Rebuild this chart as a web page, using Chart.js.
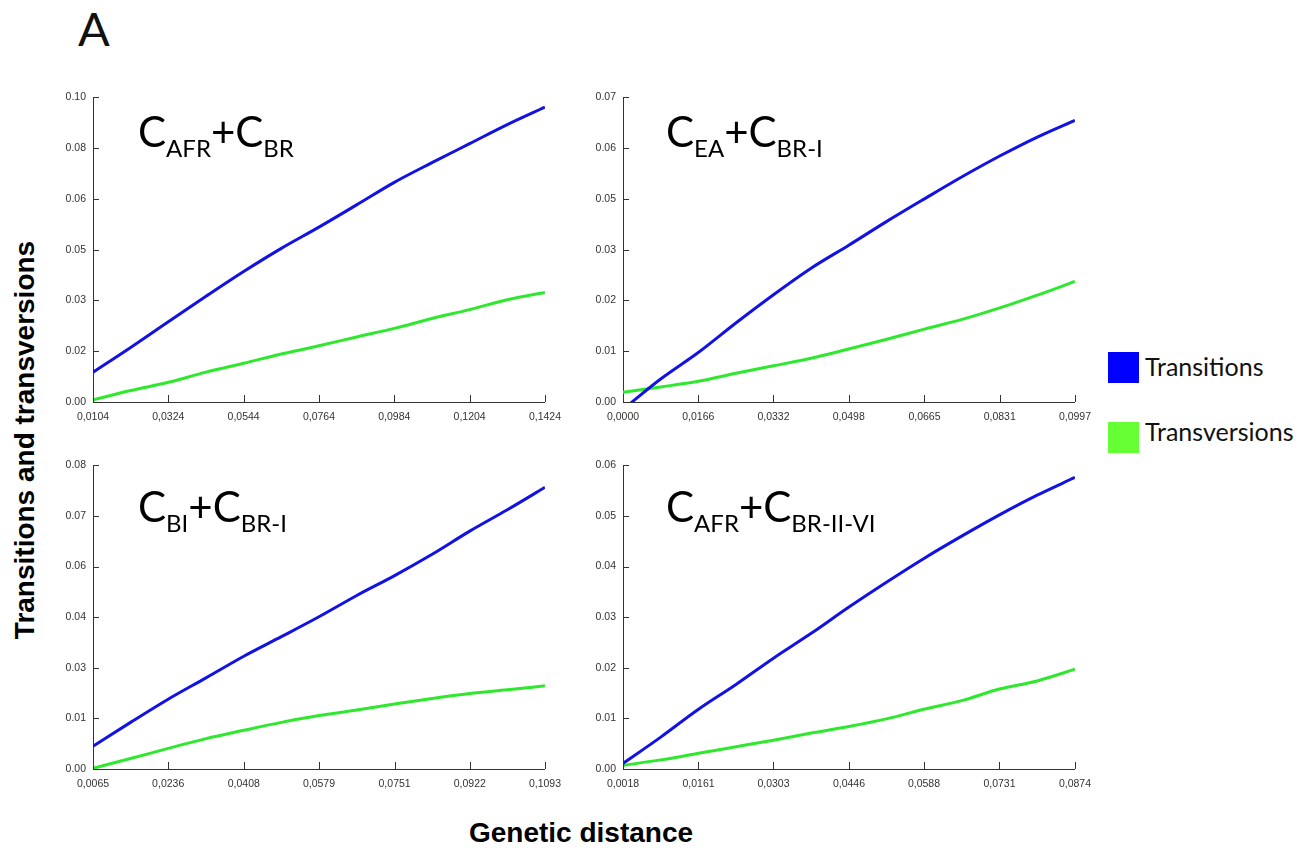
<!DOCTYPE html>
<html>
<head>
<meta charset="utf-8">
<script src="https://cdn.jsdelivr.net/npm/chart.js@4.4.1/dist/chart.umd.min.js"></script>
<style>
  body { margin: 0; background: #fff; }
  #page { position: relative; width: 1304px; height: 848px; overflow: hidden; background: #fff; }
  .panel { position: absolute; }
  .ttl { position: absolute; font-family: Lato, sans-serif; font-size: 42px; line-height: 1; color: #000; white-space: nowrap; }
  .ttl span { font-size: 24px; vertical-align: -10px; }
  .lbl { position: absolute; font-family: Lato, sans-serif; font-size: 25px; line-height: 1; color: #111; white-space: nowrap; }
  .sw { position: absolute; width: 31px; height: 31px; }
  .axt { position: absolute; font-family: "Liberation Sans", Arial, sans-serif; font-weight: bold; font-size: 28px; line-height: 1; color: #000; white-space: nowrap; }
</style>
</head>
<body>
<div id="page">
  <div class="lbl" style="left:78px; top:5px; font-size:47px;">A</div>

  <canvas id="c1" class="panel" width="530" height="345" style="left:40px; top:84px;"></canvas>
  <canvas id="c2" class="panel" width="530" height="345" style="left:570px; top:84px;"></canvas>
  <canvas id="c3" class="panel" width="530" height="344" style="left:40px; top:452px;"></canvas>
  <canvas id="c4" class="panel" width="530" height="344" style="left:570px; top:452px;"></canvas>

  <div class="ttl" style="left:138px; top:110px;">C<span>AFR</span>+C<span>BR</span></div>
  <div class="ttl" style="left:666px; top:110px;">C<span>EA</span>+C<span>BR-I</span></div>
  <div class="ttl" style="left:138px; top:485px;">C<span>BI</span>+C<span>BR-I</span></div>
  <div class="ttl" style="left:666px; top:485px;">C<span>AFR</span>+C<span>BR-II-VI</span></div>

  <div class="sw" style="left:1108px; top:352px; background:#0000ff;"></div>
  <div class="lbl" style="left:1145px; top:354px;">Transitions</div>
  <div class="sw" style="left:1108px; top:422px; background:#66ff33;"></div>
  <div class="lbl" style="left:1145px; top:419px;">Transversions</div>

  <div class="axt" style="left:25px; top:440px; transform: translate(-50%, -50%) rotate(-90deg);">Transitions and transversions</div>
  <div class="axt" style="left:431px; top:819px; width:300px; text-align:center;">Genetic distance</div>
</div>

<script>
// panel 1: CAFR + CBR
const x1 = [0.0104, 0.0214, 0.0324, 0.0434, 0.0544, 0.0654, 0.0764, 0.0874, 0.0984, 0.1094, 0.1204, 0.1314, 0.1424];
const ts1 = [0.0094, 0.0172, 0.0253, 0.0333, 0.0411, 0.0484, 0.0551, 0.0621, 0.0692, 0.0754, 0.0814, 0.0874, 0.0929];
const tv1 = [0.0007, 0.0036, 0.0062, 0.0094, 0.0122, 0.0151, 0.0177, 0.0205, 0.0232, 0.0263, 0.0291, 0.0322, 0.0345];
const xt1 = [0.0104, 0.0324, 0.0544, 0.0764, 0.0984, 0.1204, 0.1424];
const yt1 = [0, 0.016, 0.032, 0.048, 0.064, 0.08, 0.096];

// panel 2: CEA + CBR-I
const x2 = [0.0000, 0.0083, 0.0166, 0.0249, 0.0332, 0.0415, 0.0498, 0.0582, 0.0665, 0.0748, 0.0831, 0.0914, 0.0997];
const ts2 = [-0.0017, 0.0052, 0.0112, 0.0179, 0.0243, 0.0303, 0.0355, 0.0409, 0.0460, 0.0510, 0.0557, 0.0600, 0.0638];
const tv2 = [0.0022, 0.0034, 0.0047, 0.0065, 0.0082, 0.0099, 0.0120, 0.0142, 0.0165, 0.0187, 0.0213, 0.0242, 0.0273];
const xt2 = [0.0000, 0.0166, 0.0332, 0.0498, 0.0665, 0.0831, 0.0997];
const yt2 = [0, 0.0115, 0.023, 0.0345, 0.046, 0.0575, 0.069];

// panel 3: CBI + CBR-I
const x3 = [0.0065, 0.01505, 0.0236, 0.0322, 0.0408, 0.04935, 0.0579, 0.0665, 0.0751, 0.08365, 0.0922, 0.10075, 0.1093];
const ts3 = [0.0063, 0.0129, 0.0193, 0.0252, 0.0312, 0.0366, 0.0421, 0.0480, 0.0535, 0.0594, 0.0658, 0.0717, 0.0779];
const tv3 = [0.0002, 0.0029, 0.0057, 0.0084, 0.0107, 0.0129, 0.0148, 0.0163, 0.0180, 0.0195, 0.0209, 0.0219, 0.0230];
const xt3 = [0.0065, 0.0236, 0.0408, 0.0579, 0.0751, 0.0922, 0.1093];
const yt3 = [0, 0.014, 0.028, 0.042, 0.056, 0.07, 0.084];

// panel 4: CAFR + CBR-II-VI
const x4 = [0.0018, 0.00895, 0.0161, 0.0232, 0.0303, 0.03745, 0.0446, 0.0517, 0.0588, 0.06595, 0.0731, 0.08025, 0.0874];
const ts4 = [0.0011, 0.0063, 0.0118, 0.0167, 0.0219, 0.0268, 0.0320, 0.0369, 0.0416, 0.0460, 0.0502, 0.0541, 0.0576];
const tv4 = [0.0007, 0.0018, 0.0031, 0.0044, 0.0057, 0.0071, 0.0084, 0.0099, 0.0118, 0.0135, 0.0158, 0.0174, 0.0197];
const xt4 = [0.0018, 0.0161, 0.0303, 0.0446, 0.0588, 0.0731, 0.0874];
const yt4 = [0, 0.01, 0.02, 0.03, 0.04, 0.05, 0.06];

const blue = "#1212e2";
const green = "#2ee82e";

// small inward tick marks like the original program draws
const innerTicks = {
  id: "innerTicks",
  afterDraw(chart) {
    const ctx = chart.ctx;
    const xs = chart.scales.x;
    const ys = chart.scales.y;
    const a = chart.chartArea;
    ctx.save();
    ctx.strokeStyle = "#333";
    ctx.lineWidth = 1;
    ctx.beginPath();
    ys.ticks.forEach((t) => {
      const py = Math.round(ys.getPixelForValue(t.value)) + 0.5;
      ctx.moveTo(a.left, py);
      ctx.lineTo(a.left + 6, py);
    });
    xs.ticks.forEach((t) => {
      const px = Math.round(xs.getPixelForValue(t.value)) + 0.5;
      ctx.moveTo(px, a.bottom);
      ctx.lineTo(px, a.bottom - 7);
    });
    ctx.stroke();
    ctx.restore();
  },
};

function makePanel(id, xs, trans, transv, xTicks, yTicks, xAxisH) {
  const tickFont = { family: "'Liberation Sans', Arial, sans-serif", size: 10.5 };
  return new Chart(document.getElementById(id), {
    type: "line",
    data: {
      datasets: [
        {
          label: "Transitions",
          data: xs.map((x, i) => ({ x: x, y: trans[i] })),
          borderColor: blue,
          borderWidth: 3,
          pointRadius: 0,
          cubicInterpolationMode: "monotone",
        },
        {
          label: "Transversions",
          data: xs.map((x, i) => ({ x: x, y: transv[i] })),
          borderColor: green,
          borderWidth: 3,
          pointRadius: 0,
          cubicInterpolationMode: "monotone",
        },
      ],
    },
    options: {
      responsive: false,
      animation: false,
      devicePixelRatio: 1,
      layout: { padding: { top: 10, right: 22, left: 0, bottom: 0 } },
      plugins: { legend: { display: false }, tooltip: { enabled: false } },
      scales: {
        x: {
          type: "linear",
          min: xTicks[0],
          max: xTicks[xTicks.length - 1],
          afterBuildTicks: (s) => { s.ticks = xTicks.map((v) => ({ value: v })); },
          afterFit: (s) => { s.height = xAxisH; },
          grid: { display: false, drawTicks: false },
          border: { display: true, color: "#333", width: 1 },
          ticks: {
            autoSkip: false,
            maxRotation: 0,
            padding: 9,
            color: "#333",
            font: tickFont,
            callback: (v) => Number(v).toFixed(4).replace(".", ","),
          },
        },
        y: {
          type: "linear",
          min: yTicks[0],
          max: yTicks[yTicks.length - 1],
          afterBuildTicks: (s) => { s.ticks = yTicks.map((v) => ({ value: v })); },
          afterFit: (s) => { s.width = 53; },
          grid: { display: false, drawTicks: false },
          border: { display: true, color: "#333", width: 1 },
          ticks: {
            padding: 7,
            color: "#333",
            font: tickFont,
            callback: (v) => Number(v).toFixed(2),
          },
        },
      },
    },
    plugins: [innerTicks],
  });
}

makePanel("c1", x1, ts1, tv1, xt1, yt1, 27);
makePanel("c2", x2, ts2, tv2, xt2, yt2, 27);
makePanel("c3", x3, ts3, tv3, xt3, yt3, 27);
makePanel("c4", x4, ts4, tv4, xt4, yt4, 27);
</script>
</body>
</html>
